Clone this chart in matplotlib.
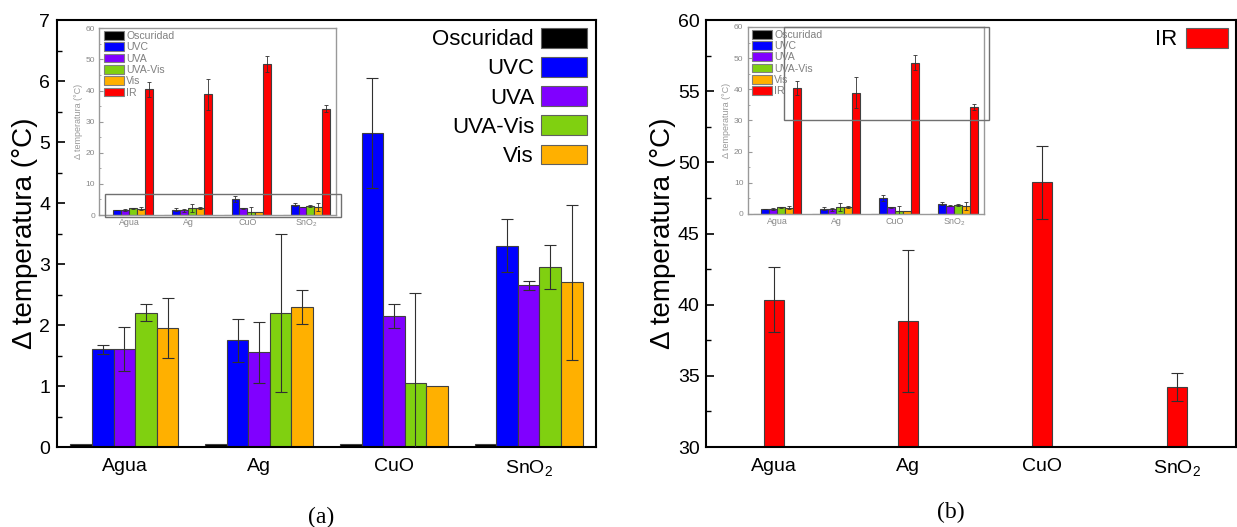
import numpy as np
import matplotlib
matplotlib.use('Agg')
import matplotlib.pyplot as plt
from matplotlib.patches import Rectangle, Patch
from matplotlib.ticker import MultipleLocator

plt.rcParams['font.family'] = ['Liberation Sans', 'DejaVu Sans']
plt.rcParams['mathtext.fontset'] = 'custom'
plt.rcParams['mathtext.rm'] = 'Liberation Sans'
plt.rcParams['mathtext.it'] = 'Liberation Sans'
plt.rcParams['mathtext.default'] = 'regular'

# Temperature rise per sample and lamp (mean and std dev, degC)
categories = ['Agua', 'Ag', 'CuO', 'SnO$_2$']
series = ['Oscuridad', 'UVC', 'UVA', 'UVA-Vis', 'Vis', 'IR']
colors = ['#000000', '#0000FF', '#8000FF', '#80D010', '#FFB000', '#FF0000']

oscuridad = [0.05, 0.05, 0.05, 0.05]
oscuridad_err = [0.0, 0.0, 0.0, 0.0]
uvc = [1.6, 1.75, 5.15, 3.3]
uvc_err = [0.07, 0.35, 0.9, 0.43]
uva = [1.6, 1.55, 2.15, 2.65]
uva_err = [0.36, 0.5, 0.2, 0.07]
uva_vis = [2.2, 2.2, 1.05, 2.95]
uva_vis_err = [0.14, 1.3, 1.48, 0.36]
vis = [1.95, 2.3, 1.0, 2.7]
vis_err = [0.49, 0.28, 0.0, 1.27]
ir = [40.35, 38.85, 48.6, 34.2]
ir_err = [2.3, 5.0, 2.55, 1.0]

values = [oscuridad, uvc, uva, uva_vis, vis, ir]
errors = [oscuridad_err, uvc_err, uva_err, uva_vis_err, vis_err, ir_err]

x = np.arange(len(categories))
edge = '#404040'
err_col = '#303030'


def draw_bars(ax, idx_list, width, capsize, elw=0.8):
    n = len(idx_list)
    for k, i in enumerate(idx_list):
        xs = x + (k - (n - 1) / 2) * width
        ax.bar(xs, values[i], width, color=colors[i], edgecolor=edge, linewidth=0.8, zorder=2)
        e = np.array(errors[i])
        m = e > 0
        if m.any():
            ax.errorbar(xs[m], np.array(values[i])[m], yerr=e[m], fmt='none',
                        ecolor=err_col, elinewidth=elw, capsize=capsize, capthick=elw, zorder=3)


def style_main(ax):
    for s in ax.spines.values():
        s.set_linewidth(1.5)
    ax.tick_params(axis='y', which='both', direction='in', right=False, labelsize=14, pad=5)
    ax.tick_params(axis='y', which='major', length=6, width=1.2)
    ax.tick_params(axis='y', which='minor', length=3.5, width=1.0)
    ax.tick_params(axis='x', length=0, labelsize=14, pad=8)
    ax.set_xticks(x)
    ax.set_xticklabels(categories)
    ax.set_ylabel('Δ temperatura (°C)', fontsize=20, labelpad=1)


def draw_inset(ax, zoom_rect):
    draw_bars(ax, range(6), 0.133, 1.5, elw=0.6)
    ax.set_xlim(-0.5, 3.5)
    ax.set_ylim(0, 60)
    ax.yaxis.set_major_locator(MultipleLocator(10))
    ax.yaxis.set_minor_locator(MultipleLocator(5))
    gray = '#999999'
    for s in ax.spines.values():
        s.set_color(gray)
        s.set_linewidth(1.0)
    ax.tick_params(axis='y', which='both', direction='in', colors=gray, labelsize=6,
                   labelcolor='#888888', pad=3)
    ax.tick_params(axis='y', which='major', length=3)
    ax.tick_params(axis='y', which='minor', length=1.5)
    ax.tick_params(axis='x', length=0, labelsize=6.4, labelcolor='#888888', pad=2)
    ax.set_xticks(x)
    ax.set_xticklabels(categories)
    ax.set_ylabel('Δ temperatura (°C)', fontsize=6.5, color='#999999', labelpad=2)
    handles = [Patch(facecolor=c, edgecolor='#808080', linewidth=0.8) for c in colors]
    leg = ax.legend(handles, series, loc='upper left', bbox_to_anchor=(0.02, 0.985),
                    frameon=False, fontsize=7.6, handlelength=1.9, handleheight=0.9,
                    labelspacing=0.12, handletextpad=0.2, borderpad=0, borderaxespad=0)
    for t in leg.get_texts():
        t.set_color('#808080')
    x0, y0, w, h = zoom_rect
    ax.add_patch(Rectangle((x0, y0), w, h, fill=False, edgecolor='#707070',
                           linewidth=1.0, clip_on=False, zorder=5))


fig = plt.figure(figsize=(12.37, 5.27), dpi=100)

# (a) low-range lamps
ax1 = fig.add_axes([0.0461, 0.1518, 0.4357, 0.8102])
draw_bars(ax1, range(5), 0.16, 4)
ax1.set_xlim(-0.5, 3.5)
ax1.set_ylim(0, 7)
ax1.yaxis.set_major_locator(MultipleLocator(1))
ax1.yaxis.set_minor_locator(MultipleLocator(0.5))
style_main(ax1)
h1 = [Patch(facecolor=colors[i], edgecolor='#606060', linewidth=0.8) for i in range(5)]
ax1.legend(h1, series[:5], loc='upper right', bbox_to_anchor=(0.984, 0.982), markerfirst=False,
           frameon=False, fontsize=16, handlelength=2.1, handleheight=1.0,
           labelspacing=0.3, handletextpad=0.3, borderpad=0, borderaxespad=0)

ins1 = fig.add_axes([0.0803, 0.592, 0.1914, 0.3543])
draw_inset(ins1, (-0.40, -0.5, 3.99, 7.25))

# (b) infrared lamp
ax2 = fig.add_axes([0.5711, 0.1518, 0.428, 0.8102])
draw_bars(ax2, [5], 0.15, 4)
ax2.set_xlim(-0.5, 3.44)
ax2.set_ylim(30, 60)
ax2.yaxis.set_major_locator(MultipleLocator(5))
ax2.yaxis.set_minor_locator(MultipleLocator(2.5))
style_main(ax2)
h2 = [Patch(facecolor=colors[5], edgecolor='#606060', linewidth=0.8)]
ax2.legend(h2, ['IR'], loc='upper right', bbox_to_anchor=(0.985, 0.982), markerfirst=False,
           frameon=False, fontsize=16, handlelength=1.9, handleheight=1.0,
           handletextpad=0.4, borderpad=0, borderaxespad=0)

ins2 = fig.add_axes([0.6043, 0.594, 0.1908, 0.3548])
draw_inset(ins2, (0.12, 30, 3.47, 30))

fig.text(0.26, 0.019, '(a)', family='Liberation Serif', fontsize=17, ha='center', va='center')
fig.text(0.769, 0.028, '(b)', family='Liberation Serif', fontsize=17, ha='center', va='center')

fig.savefig('out.png', dpi=100)
